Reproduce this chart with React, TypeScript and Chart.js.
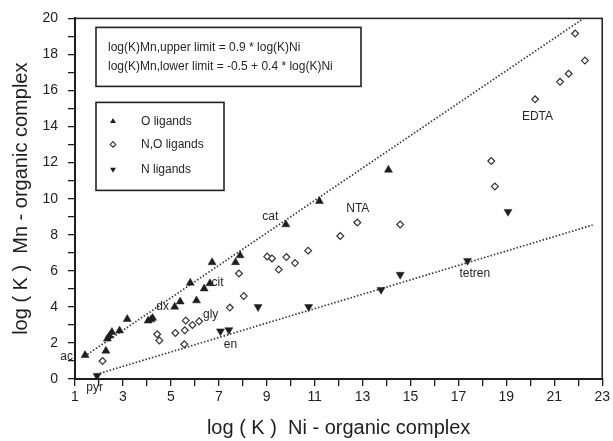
import { useEffect, useRef } from 'react';
import { Chart, registerables } from 'chart.js';

Chart.register(...registerables);

const FONT = '"Liberation Sans", Arial, Helvetica, sans-serif';
const INK = '#1e1e1e';

// Stability constants, log(K): Ni complex (x) vs Mn complex (y)
const oLigandsX = [1.42, 2.29, 2.35, 2.44, 2.54, 2.86, 3.18, 4.05, 4.17, 4.24, 5.16, 5.39, 5.81, 6.07, 6.39, 6.63, 6.72, 7.7, 7.89, 9.8, 11.2, 14.08];
const oLigandsY = [1.32, 1.56, 2.23, 2.4, 2.6, 2.68, 3.32, 3.23, 3.3, 3.38, 4.0, 4.29, 5.33, 4.35, 5.01, 5.3, 6.47, 6.47, 6.85, 8.57, 9.86, 11.6];

const noLigandsX = [2.15, 4.43, 4.52, 5.19, 5.58, 5.56, 5.62, 5.9, 6.18, 7.46, 7.84, 8.04, 9.02, 9.22, 9.5, 9.82, 10.18, 10.73, 12.07, 12.78, 14.57, 18.37, 18.52, 20.2, 21.24, 21.6, 21.87, 22.28];
const noLigandsY = [1.0, 2.48, 2.14, 2.55, 2.7, 1.93, 3.24, 3.0, 3.2, 3.96, 5.85, 4.6, 6.79, 6.69, 6.07, 6.76, 6.43, 7.12, 7.93, 8.68, 8.57, 12.09, 10.68, 15.51, 16.48, 16.93, 19.16, 17.66];

const nLigandsX = [1.92, 7.07, 7.42, 8.64, 10.75, 13.77, 14.57, 17.38, 19.07];
const nLigandsY = [0.18, 2.65, 2.72, 4.0, 4.0, 4.95, 5.79, 6.56, 9.28];

// Limit lines: log(K)Mn = a + b * log(K)Ni
const upperLimit = { a: 0, b: 0.9 };
const lowerLimit = { a: -0.5, b: 0.4 };
const upperLimitX = [1.4, 22.2];
const lowerLimitX = [1.9, 22.6];

const xTickLabels = ['1', '3', '5', '7', '9', '11', '13', '15', '17', '19', '21', '23'];
const yTickLabels = ['0', '2', '4', '6', '8', '10', '12', '14', '16', '18', '20'];

const pointLabels = ['ac', 'pyr', 'dx', 'cit', 'gly', 'en', 'cat', 'NTA', 'tetren', 'EDTA'];
const pointLabelX = [0.65, 1.82, 4.66, 6.95, 6.66, 7.49, 9.15, 12.8, 17.68, 20.3];
const pointLabelY = [1.22, -0.5, 4.0, 5.33, 3.54, 1.92, 8.99, 9.44, 5.83, 14.56];

const equationLines = [
  'log(K)Mn,upper limit = 0.9 * log(K)Ni',
  'log(K)Mn,lower limit = -0.5 + 0.4 * log(K)Ni',
];
const legendNames = ['O ligands', 'N,O ligands', 'N ligands'];

const toPoints = (xs: number[], ys: number[]) => xs.map((x, i) => ({ x, y: ys[i] }));
const limitPoints = (xs: number[], l: { a: number; b: number }) =>
  xs.map((x) => ({ x, y: l.a + l.b * x }));

function triangle(ctx: CanvasRenderingContext2D, cx: number, cy: number, r: number, down: boolean) {
  const s = down ? -1 : 1;
  ctx.beginPath();
  ctx.moveTo(cx, cy - s * r);
  ctx.lineTo(cx + r * 0.866, cy + s * r * 0.5);
  ctx.lineTo(cx - r * 0.866, cy + s * r * 0.5);
  ctx.closePath();
  ctx.fill();
}

function diamond(ctx: CanvasRenderingContext2D, cx: number, cy: number, r: number) {
  ctx.beginPath();
  ctx.moveTo(cx, cy - r);
  ctx.lineTo(cx + r, cy);
  ctx.lineTo(cx, cy + r);
  ctx.lineTo(cx - r, cy);
  ctx.closePath();
  ctx.fillStyle = '#fff';
  ctx.fill();
  ctx.stroke();
}

const annotations = {
  id: 'annotations',
  afterDraw(chart: any) {
    const { ctx, chartArea: a, scales } = chart;
    const xs = scales.x;
    const ys = scales.y;
    ctx.save();

    // plot frame
    ctx.strokeStyle = INK;
    ctx.lineWidth = 1.5;
    ctx.strokeRect(a.left, a.top, a.right - a.left, a.bottom - a.top);

    // compound names next to their points
    ctx.font = `12px ${FONT}`;
    ctx.fillStyle = '#262626';
    ctx.textAlign = 'center';
    ctx.textBaseline = 'middle';
    pointLabels.forEach((t, i) => {
      ctx.fillText(t, xs.getPixelForValue(pointLabelX[i]), ys.getPixelForValue(pointLabelY[i]));
    });

    // equation box
    const ex = a.left + 21;
    const ey = a.top + 9;
    ctx.lineWidth = 1.6;
    ctx.strokeStyle = '#222';
    ctx.fillStyle = '#fff';
    ctx.fillRect(ex, ey, 265, 59);
    ctx.strokeRect(ex, ey, 265, 59);
    ctx.fillStyle = '#262626';
    ctx.textAlign = 'left';
    ctx.fillText(equationLines[0], ex + 12, ey + 20);
    ctx.fillText(equationLines[1], ex + 12, ey + 39);

    // legend box
    const lx = a.left + 21;
    const ly = a.top + 84;
    ctx.fillStyle = '#fff';
    ctx.fillRect(lx, ly, 128, 88);
    ctx.strokeRect(lx, ly, 128, 88);
    const rows = [19, 42, 67];
    ctx.fillStyle = INK;
    triangle(ctx, lx + 17, ly + rows[0], 3.4, false);
    ctx.lineWidth = 1.1;
    ctx.strokeStyle = '#333';
    diamond(ctx, lx + 17, ly + rows[1], 2.8);
    ctx.fillStyle = INK;
    triangle(ctx, lx + 17, ly + rows[2], 3.4, true);
    ctx.fillStyle = '#262626';
    legendNames.forEach((t, i) => ctx.fillText(t, lx + 45, ly + rows[i]));

    ctx.restore();
  },
};

export default function App() {
  const ref = useRef<HTMLCanvasElement | null>(null);

  useEffect(() => {
    if (!ref.current) return;
    const tickFont = { family: FONT, size: 14 };
    const chart = new Chart(ref.current, {
      type: 'scatter',
      data: {
        datasets: [
          {
            label: legendNames[0],
            data: toPoints(oLigandsX, oLigandsY),
            pointStyle: 'triangle',
            pointRadius: 4.6,
            backgroundColor: INK,
            borderColor: INK,
            borderWidth: 0.5,
          },
          {
            label: legendNames[1],
            data: toPoints(noLigandsX, noLigandsY),
            pointStyle: 'rectRot',
            pointRadius: 3.4,
            backgroundColor: '#fff',
            borderColor: '#333',
            borderWidth: 1.2,
          },
          {
            label: legendNames[2],
            data: toPoints(nLigandsX, nLigandsY),
            pointStyle: 'triangle',
            rotation: 180,
            pointRadius: 4.6,
            backgroundColor: INK,
            borderColor: INK,
            borderWidth: 0.5,
          },
          {
            label: 'upper limit',
            data: limitPoints(upperLimitX, upperLimit),
            showLine: true,
            pointRadius: 0,
            borderColor: '#383838',
            borderWidth: 1.7,
            borderDash: [1.5, 1.9],
          },
          {
            label: 'lower limit',
            data: limitPoints(lowerLimitX, lowerLimit),
            showLine: true,
            pointRadius: 0,
            borderColor: '#383838',
            borderWidth: 1.7,
            borderDash: [1.5, 1.9],
          },
        ] as any,
      },
      options: {
        responsive: false,
        animation: false,
        devicePixelRatio: 1,
        layout: { padding: { top: 14, right: 7, left: 0, bottom: 0 } },
        plugins: { legend: { display: false }, tooltip: { enabled: false } },
        scales: {
          x: {
            type: 'linear',
            min: 1,
            max: 23,
            afterFit: (s: any) => {
              s.height = 62;
            },
            ticks: {
              stepSize: 1,
              autoSkip: false,
              maxRotation: 0,
              padding: 3,
              color: INK,
              font: tickFont,
              callback: (v: any) => (xTickLabels.includes(String(v)) ? String(v) : ''),
            },
            grid: { drawOnChartArea: false, drawTicks: true, tickLength: 7, color: INK, lineWidth: 1.3 },
            border: { display: true, color: INK, width: 2 },
            title: {
              display: true,
              text: 'log ( K )  Ni - organic complex',
              color: INK,
              font: { family: FONT, size: 20 },
              padding: { top: 0, bottom: 1 },
            },
          },
          y: {
            type: 'linear',
            min: 0,
            max: 20,
            afterFit: (s: any) => {
              s.width = 75;
            },
            ticks: {
              stepSize: 1,
              autoSkip: false,
              padding: 10,
              color: INK,
              font: tickFont,
              callback: (v: any) => (yTickLabels.includes(String(v)) ? String(v) : ''),
            },
            grid: { drawOnChartArea: false, drawTicks: true, tickLength: 7, color: INK, lineWidth: 1.3 },
            border: { display: true, color: INK, width: 2 },
            title: {
              display: true,
              text: 'log ( K )  Mn - organic complex',
              color: INK,
              font: { family: FONT, size: 20 },
              padding: { top: 9, bottom: 0 },
            },
          },
        },
      },
      plugins: [annotations],
    });
    return () => chart.destroy();
  }, []);

  return (
    <div style={{ position: 'absolute', left: 0, top: 0, width: 613, height: 441, background: '#fff' }}>
      <canvas ref={ref} width={613} height={441} style={{ display: 'block' }} />
    </div>
  );
}
